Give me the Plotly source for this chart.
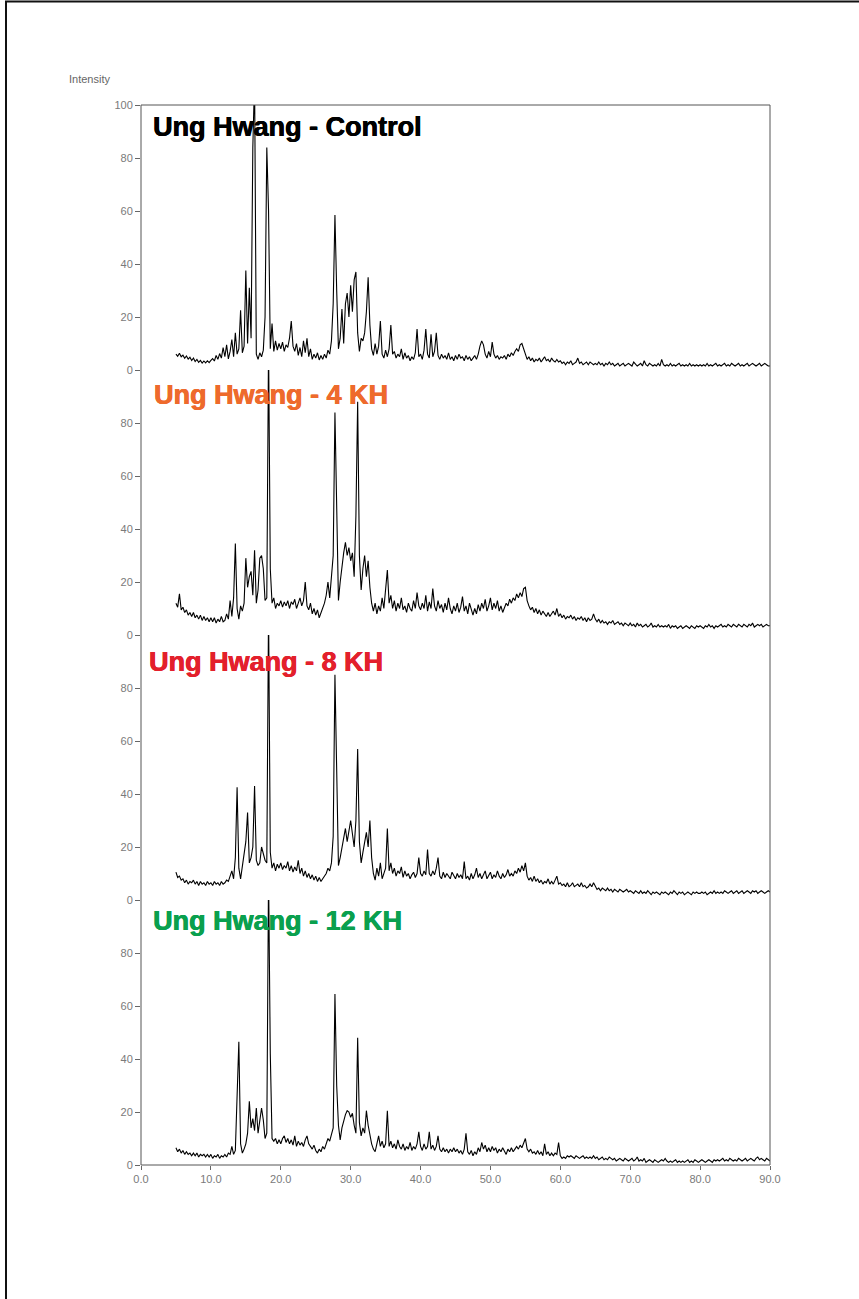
import plotly.graph_objects as go
from plotly.subplots import make_subplots

# 2-theta grid (degrees), 5.0 .. 90.0 every 0.25
two_theta = [5.0 + 0.25 * i for i in range(341)]

panel_titles = ["Ung Hwang - Control", "Ung Hwang - 4 KH", "Ung Hwang - 8 KH", "Ung Hwang - 12 KH"]
title_colors = ["#000000", "#EE6A2C", "#E3202C", "#0AA04E"]

x_tick_vals = [0, 10, 20, 30, 40, 50, 60, 70, 80, 90]
x_tick_text = ["0.0", "10.0", "20.0", "30.0", "40.0", "50.0", "60.0", "70.0", "80.0", "90.0"]

control = [
    6.0, 5.2, 6.3, 5.0, 5.6, 4.4, 5.3, 4.1, 4.8, 3.6, 4.5, 3.2, 4.0, 2.9, 3.6, 2.6, 3.4, 2.7, 3.5, 2.8,
    3.6, 4.3, 3.4, 5.5, 4.0, 6.2, 4.5, 8.5, 5.0, 9.5, 4.2, 7.0, 11.5, 5.0, 14.0, 6.0, 8.0, 22.5, 6.5, 9.0,
    37.5, 10.0, 31.0, 12.0, 84.0, 110, 6.0, 4.0, 6.5, 5.0, 7.5, 20.0, 84.0, 60.0, 8.0, 17.5, 7.0, 11.0, 7.5, 10.0,
    8.0, 10.5, 7.0, 9.5, 8.5, 12.0, 18.5, 9.0, 7.0, 10.0, 5.5, 8.5, 5.0, 11.0, 6.5, 12.0, 5.0, 8.0, 4.0, 6.0,
    4.5, 6.5, 3.8, 5.5, 4.0, 6.0, 4.5, 7.5, 6.0, 11.0, 25.0, 58.5, 30.0, 8.0, 12.0, 23.0, 10.0, 25.0, 29.0, 20.0,
    32.0, 22.0, 34.0, 37.0, 14.0, 7.0, 12.0, 11.0, 14.0, 22.0, 35.0, 17.0, 8.0, 5.5, 10.0, 6.0, 9.0, 18.5, 6.0, 4.5,
    7.5, 5.0, 8.0, 17.0, 6.0, 7.0, 4.5, 6.0, 5.0, 8.0, 4.0, 6.5, 4.5, 5.5, 3.5, 5.0, 4.0, 6.5, 15.5, 5.0,
    6.0, 4.0, 7.5, 15.5, 6.0, 4.5, 13.5, 5.0, 7.0, 14.0, 5.5, 4.0, 6.0, 4.5, 5.5, 4.0, 6.5, 4.0, 5.0, 3.5,
    5.5, 4.0, 6.0, 4.5, 5.0, 3.5, 5.5, 4.0, 5.0, 3.5, 4.5, 5.5, 4.0, 6.0, 9.0, 11.0, 9.5, 6.0, 4.5, 7.0,
    5.0, 10.5, 6.0, 4.5, 5.5, 4.0, 5.0, 4.5, 5.5, 4.0, 6.0, 5.0, 6.5, 5.5, 7.0, 8.0, 7.0, 9.5, 10.0, 8.0,
    5.5, 4.0, 5.0, 3.5, 4.5, 3.0, 4.0, 3.5, 4.5, 3.0, 4.0, 5.0, 3.5, 4.0, 3.0, 4.5, 3.5, 3.0, 4.0, 3.0,
    3.5, 2.5, 3.0, 2.0, 3.0, 2.5, 3.5, 2.0, 2.5, 3.0, 4.5, 2.5, 3.0, 2.0, 2.5, 3.0, 2.0, 3.0, 2.5, 2.0,
    2.5, 2.0, 3.0, 2.0, 2.5, 1.5, 2.5, 2.0, 3.0, 2.0, 2.5, 1.5, 2.0, 2.5, 1.5, 2.0, 2.5, 1.5, 2.0, 2.5,
    2.0, 1.5, 3.0, 2.0, 1.5, 2.0, 2.5, 1.5, 3.5, 2.0, 1.5, 2.5, 2.0, 1.5, 2.0, 1.5, 2.5, 1.5, 4.0, 2.0,
    1.5, 2.0, 1.5, 2.5, 1.5, 2.0, 1.5, 2.0, 2.5, 1.5, 2.0, 1.5, 2.0, 1.5, 2.5, 1.5, 2.0, 1.5, 2.0, 1.5,
    2.0, 1.5, 2.0, 1.5, 2.5, 1.5, 2.0, 1.5, 2.0, 2.5, 1.5, 2.0, 1.5, 2.0, 2.5, 1.5, 2.0, 1.5, 2.5, 2.0,
    1.5, 2.0, 2.5, 1.5, 2.0, 1.5, 2.0, 2.5, 1.5, 2.0, 2.5, 2.0, 1.5, 2.0, 2.5, 1.5, 2.0, 2.5, 2.0, 1.5,
    1.5,
]

kh4 = [
    12.0, 10.5, 15.5, 9.5, 10.5, 8.5, 9.5, 7.5, 8.5, 7.0, 8.5, 6.5, 7.5, 6.0, 7.5, 5.5, 7.0, 5.5, 6.5, 5.0,
    6.5, 5.0, 6.5, 4.5, 6.0, 5.0, 7.0, 5.0, 5.5, 8.0, 6.0, 13.0, 7.0, 14.0, 34.5, 10.0, 6.0, 11.0, 9.0, 12.0,
    29.0, 18.0, 22.0, 24.0, 15.0, 32.0, 12.0, 17.0, 29.0, 30.0, 25.0, 13.0, 14.0, 110, 25.0, 12.0, 14.0, 10.0, 12.0, 11.0,
    13.0, 10.5, 12.5, 11.0, 13.0, 10.0, 12.5, 11.5, 13.5, 10.0, 12.0, 14.0, 11.0, 13.0, 20.0, 11.0, 9.5, 12.0, 8.0, 10.0,
    7.5, 9.5, 6.5, 8.5, 10.0, 12.0, 15.0, 20.0, 14.0, 22.0, 30.0, 84.0, 40.0, 13.0, 20.0, 26.0, 31.0, 35.0, 30.0, 33.0,
    28.0, 31.0, 22.0, 45.0, 88.0, 30.0, 17.0, 25.0, 30.0, 22.0, 28.0, 18.0, 12.0, 9.0, 12.0, 8.0, 11.0, 9.0, 14.0, 10.0,
    16.0, 24.5, 12.0, 15.0, 10.0, 13.0, 9.0, 12.0, 10.0, 14.0, 9.5, 11.0, 8.5, 12.0, 10.0, 9.0, 13.0, 10.0, 16.0, 11.0,
    9.5, 12.0, 10.0, 15.0, 9.0, 12.5, 10.0, 17.5, 11.0, 9.0, 13.0, 10.0, 11.5, 8.5, 12.0, 9.5, 14.0, 10.0, 8.0, 11.0,
    9.0, 12.0, 8.5, 10.5, 14.5, 9.0, 11.0, 8.0, 12.0, 9.5, 7.5, 10.0, 8.0, 11.5, 9.0, 12.0, 10.0, 13.5, 9.0, 11.0,
    14.0, 9.5, 12.0, 10.0, 13.0, 9.0, 11.0, 8.5, 10.0, 12.0, 11.0, 13.5, 12.0, 14.0, 13.0, 15.5, 14.0, 16.0, 14.5, 17.5,
    18.0, 13.0, 11.0, 9.5, 10.5, 8.5, 10.0, 8.0, 9.5, 7.5, 9.0, 8.0, 7.0, 8.5, 7.0, 8.0, 9.0, 7.5, 10.0, 7.0,
    8.0, 6.5, 7.5, 6.0, 7.0, 6.5, 7.5, 6.0, 7.0, 5.5, 6.5, 6.0, 7.0, 5.5, 6.5, 5.0, 6.5, 5.5, 6.0, 8.0,
    6.0, 5.0, 6.0, 4.5, 5.5, 4.5, 5.0, 4.0, 5.0, 4.5, 5.5, 4.0, 4.5, 5.0, 4.0, 4.5, 3.5, 4.5, 4.0, 3.5,
    4.5, 3.5, 4.0, 3.0, 4.5, 3.5, 4.0, 3.0, 3.5, 4.0, 3.0, 3.5, 4.5, 3.0, 3.5, 3.0, 4.0, 3.0, 3.5, 3.0,
    3.5, 3.0, 4.0, 2.5, 3.5, 3.0, 3.5, 2.5, 3.0, 3.5, 2.5, 3.0, 3.5, 3.0, 2.5, 3.5, 3.0, 2.5, 3.5, 3.0,
    3.5, 3.0, 2.5, 3.5, 3.0, 4.0, 3.0, 3.5, 2.5, 3.5, 3.0, 3.5, 4.0, 3.0, 3.5, 3.0, 4.0, 3.5, 3.0, 4.0,
    3.5, 3.0, 4.0, 3.5, 3.0, 4.0, 3.5, 3.0, 4.0, 3.5, 4.5, 3.0, 3.5, 4.0, 3.5, 4.0, 3.0, 3.5, 4.0, 3.5,
    3.5,
]

kh8 = [
    10.5, 8.5, 9.0, 7.5, 8.0, 6.5, 7.5, 6.0, 7.0, 6.5, 7.5, 6.0, 7.0, 5.5, 7.0, 6.0, 6.5, 5.5, 7.0, 6.0,
    6.5, 5.5, 7.0, 6.0, 6.5, 5.5, 7.0, 6.0, 6.5, 7.5, 7.0, 9.0, 11.0, 8.0, 16.0, 42.5, 12.0, 8.0, 13.0, 18.0,
    22.0, 33.0, 14.0, 16.0, 20.0, 43.0, 15.0, 13.0, 14.0, 20.0, 17.0, 15.0, 14.0, 110, 18.0, 12.0, 14.0, 11.0, 13.5, 12.0,
    14.0, 11.5, 13.0, 12.0, 14.5, 11.0, 13.0, 10.5, 12.5, 11.0, 15.0, 10.0, 12.0, 9.0, 11.0, 8.5, 10.0, 8.0, 9.5, 7.5,
    9.0, 7.0, 8.5, 7.0, 8.0, 9.0, 10.0, 12.0, 11.0, 14.0, 24.0, 85.0, 40.0, 13.0, 16.0, 20.0, 24.0, 27.0, 22.0, 26.0,
    30.0, 25.0, 20.0, 30.0, 57.0, 22.0, 14.0, 18.0, 22.0, 25.5, 20.0, 30.0, 16.0, 10.0, 7.5, 12.0, 9.0, 14.0, 8.0, 10.0,
    12.0, 27.0, 11.0, 14.0, 10.0, 12.0, 9.0, 11.0, 10.0, 12.5, 8.5, 11.0, 9.0, 10.0, 8.0, 9.5, 10.5, 8.5, 10.0, 16.0,
    10.0, 9.0, 11.0, 9.5, 19.0, 10.0, 9.0, 11.0, 9.5, 12.0, 16.0, 9.0, 8.0, 10.5, 8.5, 10.0, 9.0, 8.0, 10.5, 9.0,
    8.0, 10.0, 8.5, 9.5, 8.0, 14.5, 8.0, 9.0, 7.5, 10.0, 8.0, 9.5, 12.0, 8.5, 10.0, 8.0, 9.5, 11.0, 8.0, 9.0,
    10.5, 8.0, 9.5, 8.5, 11.0, 9.0, 8.0, 10.0, 8.5, 9.5, 11.5, 9.0, 10.0, 9.0, 11.0, 10.0, 12.0, 10.5, 13.0, 11.0,
    14.0, 9.0, 7.5, 8.5, 7.0, 9.0, 7.0, 8.0, 6.5, 7.5, 6.0, 7.0, 6.5, 8.0, 6.0, 7.0, 6.0, 7.5, 9.0, 6.0,
    6.5, 5.5, 6.0, 5.0, 6.5, 5.0, 5.5, 6.5, 5.0, 5.5, 6.0, 5.0, 6.5, 5.0, 5.5, 4.5, 5.0, 6.0, 5.0, 6.5,
    5.0, 4.0, 4.5, 3.5, 4.5, 4.0, 3.5, 4.5, 3.5, 4.0, 3.0, 4.0, 3.5, 3.0, 4.0, 3.5, 3.0, 3.5, 4.0, 3.0,
    3.5, 3.0, 2.5, 3.5, 3.0, 2.5, 3.5, 2.5, 3.0, 2.5, 3.5, 2.5, 2.0, 3.0, 2.5, 3.0, 2.5, 2.0, 3.0, 2.5,
    3.0, 2.5, 2.0, 3.0, 2.5, 3.5, 2.5, 2.0, 3.0, 2.5, 3.0, 2.0, 2.5, 3.0, 2.5, 2.0, 3.0, 2.5, 3.0, 2.5,
    2.5, 3.0, 2.5, 3.0, 2.0, 2.5, 3.0, 2.5, 3.5, 2.5, 3.0, 2.5, 3.0, 2.5, 3.5, 3.0, 2.5, 3.0, 3.5, 2.5,
    3.0, 3.5, 2.5, 3.0, 3.5, 2.5, 3.0, 3.5, 3.0, 2.5, 3.5, 3.0, 3.5, 2.5, 3.0, 3.5, 3.0, 2.5, 3.0, 3.5,
    3.0,
]

kh12 = [
    6.5, 5.0, 6.0, 4.5, 5.5, 4.0, 5.0, 4.0, 4.5, 3.5, 4.5, 3.5, 4.5, 3.0, 4.0, 3.5, 4.0, 3.0, 4.0, 3.0,
    4.0, 2.5, 3.5, 3.0, 4.0, 2.5, 3.5, 3.0, 4.0, 3.0, 4.5, 4.0, 7.0, 4.0, 5.5, 30.0, 46.5, 8.0, 4.5, 6.0,
    8.0, 12.0, 24.0, 14.0, 17.5, 13.0, 21.5, 12.0, 16.0, 21.5, 17.0, 10.0, 12.0, 110, 42.0, 10.0, 9.0, 10.0, 8.0, 9.5,
    8.0, 10.0, 11.0, 8.5, 10.0, 8.0, 9.5, 7.5, 11.0, 7.0, 9.0, 7.5, 8.5, 7.0, 9.5, 11.0, 8.0, 7.0, 6.0, 7.5,
    5.5, 4.5, 6.0, 5.0, 7.0, 6.0, 8.5, 10.0, 9.0, 12.0, 14.0, 64.5, 30.0, 15.0, 9.5, 14.0, 17.0, 19.0, 20.5, 20.0,
    18.0, 19.5, 15.0, 12.0, 48.0, 16.0, 11.0, 14.0, 12.0, 20.5, 15.0, 11.0, 8.0, 6.0, 5.0, 8.0, 11.0, 7.0, 9.0, 6.5,
    8.0, 20.5, 7.0, 9.0, 6.5, 8.0, 6.0, 9.5, 7.0, 6.0, 8.0, 5.5, 7.0, 6.0, 8.5, 5.5, 7.0, 6.0, 8.0, 12.5,
    7.0, 5.5, 8.0, 6.0, 7.0, 12.5, 6.0, 7.5, 5.5, 7.0, 11.0, 6.0, 5.0, 6.5, 5.0, 6.0, 4.5, 6.0, 5.0, 6.5,
    5.0, 6.0, 4.5, 5.5, 4.0, 6.0, 12.0, 5.0, 4.0, 5.5, 3.5, 5.0, 4.0, 6.5, 5.0, 8.5, 6.0, 7.5, 5.0, 6.5,
    5.0, 7.0, 5.5, 6.5, 4.5, 6.0, 5.0, 6.5, 5.0, 4.0, 6.0, 5.0, 6.5, 5.0, 6.0, 7.0, 6.0, 7.5, 6.5, 8.0,
    10.0, 6.0, 5.0, 6.0, 4.5, 5.0, 4.0, 5.5, 4.0, 5.0, 3.5, 8.0, 4.0, 5.0, 3.5, 4.5, 3.5, 4.5, 4.0, 8.5,
    3.5, 2.5, 3.0, 2.5, 3.5, 3.0, 3.5, 3.0, 2.5, 3.5, 3.0, 2.5, 3.0, 3.5, 2.5, 3.0, 2.5, 3.0, 2.5, 3.5,
    2.5, 3.0, 2.0, 2.5, 3.0, 2.0, 2.5, 2.0, 3.0, 2.5, 2.0, 2.5, 1.5, 2.0, 2.5, 2.0, 1.5, 2.5, 2.0, 1.5,
    2.0, 2.5, 1.5, 2.0, 3.0, 1.5, 2.0, 1.5, 2.5, 1.0, 1.5, 2.0, 1.5, 1.0, 2.0, 1.5, 1.0, 1.5, 2.0, 1.5,
    2.5, 1.5, 1.0, 1.5, 1.0, 1.5, 2.0, 1.0, 1.5, 1.0, 1.5, 1.0, 1.5, 2.0, 1.0, 1.5, 1.0, 2.0, 1.5, 1.0,
    1.5, 2.0, 1.5, 1.0, 1.5, 2.0, 1.5, 1.0, 2.0, 1.5, 2.0, 1.5, 2.0, 2.5, 1.5, 2.0, 1.5, 2.5, 2.0, 1.5,
    2.0, 1.5, 2.5, 2.0, 1.5, 2.0, 2.5, 1.5, 2.0, 2.5, 2.0, 1.5, 2.5, 3.0, 2.0, 2.5, 2.0, 1.5, 2.5, 2.0,
    1.5,
]

series = [control, kh4, kh8, kh12]

# ---- geometry (pixels) ----
W, H = 859, 1299
L, R, T, B = 141, 770, 105, 1165
pw, ph = R - L, B - T


def px_x(px):
    return (px - L) / pw


def px_y(py):
    return (B - py) / ph


fig = make_subplots(rows=4, cols=1, shared_xaxes=True, vertical_spacing=0)

for i, s in enumerate(series):
    fig.add_trace(
        go.Scatter(x=two_theta[:len(s)], y=s, mode="lines",
                   line=dict(color="black", width=1.1), showlegend=False,
                   hoverinfo="skip"),
        row=i + 1, col=1,
    )

tick_font = dict(family="Liberation Sans, Arial, sans-serif", size=11, color="#7a7a7a")

for i in range(4):
    tv = [0, 20, 40, 60, 80, 100] if i == 0 else [0, 20, 40, 60, 80]
    fig.update_yaxes(
        range=[0, 100], tickvals=tv, ticktext=[str(v) for v in tv],
        ticks="outside", ticklen=5, tickcolor="#666", tickwidth=1,
        tickfont=tick_font, showgrid=False, zeroline=False, showline=False,
        row=i + 1, col=1,
    )
    if i < 3:
        fig.update_xaxes(range=[0, 90], showticklabels=False, ticks="",
                         showgrid=False, zeroline=False, showline=False,
                         row=i + 1, col=1)
    else:
        fig.update_xaxes(range=[0, 90], tickvals=x_tick_vals, ticktext=x_tick_text,
                         ticks="outside", ticklen=4, tickcolor="#666",
                         tickfont=tick_font, showgrid=False, zeroline=False,
                         showline=False, row=i + 1, col=1)

shapes = [
    # plot frame
    dict(type="rect", xref="paper", yref="paper", x0=0, x1=1, y0=0, y1=1,
         line=dict(color="#555", width=1), fillcolor="rgba(0,0,0,0)", layer="above"),
    # page frame (top and left edges visible)
    dict(type="rect", xref="paper", yref="paper",
         x0=px_x(6), x1=px_x(880), y0=px_y(1320), y1=px_y(1.5),
         line=dict(color="#111", width=2), fillcolor="rgba(0,0,0,0)"),
]

title_y_px = [127, 395, 662, 921]
title_x_px = [151, 152, 147, 151]
annotations = []
for t, c, xp, yp in zip(panel_titles, title_colors, title_x_px, title_y_px):
    annotations.append(dict(
        text=t, xref="paper", yref="paper", x=px_x(xp), y=px_y(yp),
        xanchor="left", yanchor="middle", showarrow=False,
        font=dict(family="Liberation Sans, Arial, sans-serif", size=27,
                  color=c, weight="bold",
                  shadow=f"0.6px 0 0 {c}, -0.3px 0 0 {c}"),
    ))
annotations.append(dict(
    text="Intensity", xref="paper", yref="paper", x=px_x(67), y=px_y(79),
    xanchor="left", yanchor="middle", showarrow=False,
    font=dict(family="Liberation Sans, Arial, sans-serif", size=11, color="#666"),
))

fig.update_layout(
    width=W, height=H,
    margin=dict(l=L, r=W - R, t=T, b=H - B),
    paper_bgcolor="white", plot_bgcolor="white",
    shapes=shapes, annotations=annotations,
    showlegend=False,
)

fig.write_html("out.html", config={"displayModeBar": False},
               post_script="document.body.style.margin='0px';")
